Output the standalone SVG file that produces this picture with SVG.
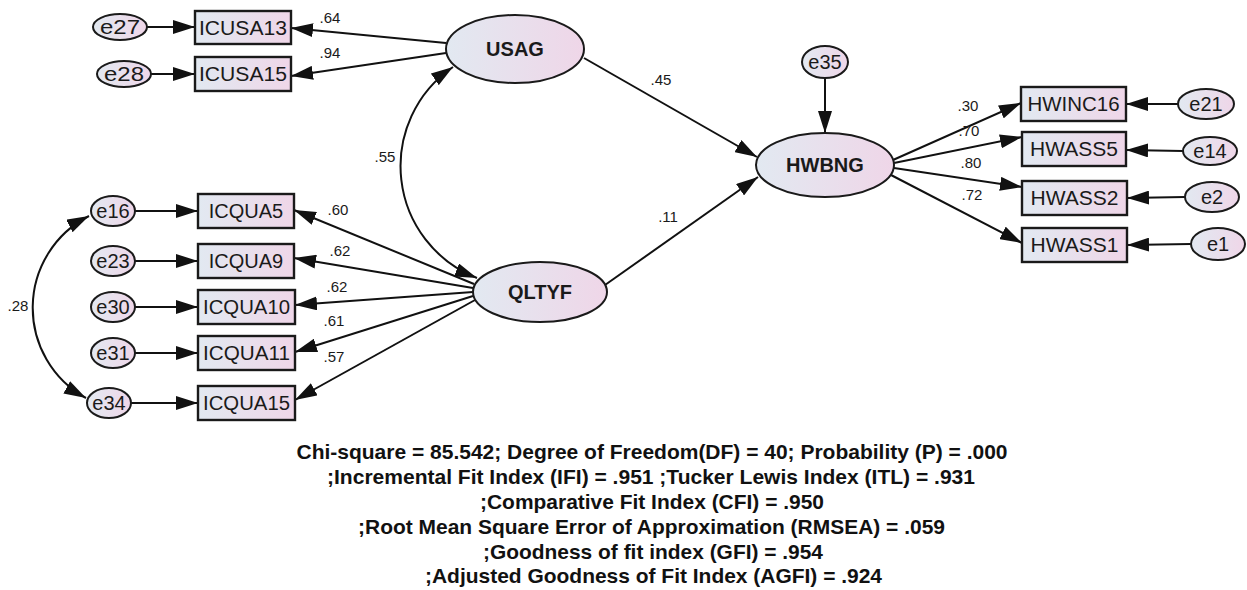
<svg xmlns="http://www.w3.org/2000/svg" width="1247" height="590" viewBox="0 0 1247 590">
<defs>
<linearGradient id="g" x1="0" y1="0" x2="1" y2="0">
<stop offset="0" stop-color="#e2e9f1"/>
<stop offset="1" stop-color="#efd6e8"/>
</linearGradient>
<marker id="ah" markerUnits="userSpaceOnUse" markerWidth="24" markerHeight="14" refX="22" refY="7" orient="auto-start-reverse" viewBox="0 0 24 14">
<path d="M0,0 L22,7 L0,14 z" fill="#111"/>
</marker>
<style>
.obs{fill:url(#g);stroke:#1a1a1a;stroke-width:2.4}
.lat{fill:url(#g);stroke:#1a1a1a;stroke-width:2}
.err{fill:url(#g);stroke:#1a1a1a;stroke-width:2}
.t{font-family:"Liberation Sans",Arial,sans-serif;font-size:20px;fill:#1a1a1a;text-anchor:middle}
.b{font-family:"Liberation Sans",Arial,sans-serif;font-size:20px;font-weight:bold;fill:#1a1a1a;text-anchor:middle}
.c{font-family:"Liberation Sans",Arial,sans-serif;font-size:15px;fill:#1a1a1a;text-anchor:middle}
.f{font-family:"Liberation Sans",Arial,sans-serif;font-size:21px;font-weight:bold;fill:#111;text-anchor:middle}
.ln{fill:none;stroke:#111;stroke-width:2;marker-end:url(#ah)}
.dl{fill:none;stroke:#111;stroke-width:2;marker-start:url(#ah);marker-end:url(#ah)}
</style>
</defs>
<rect width="1247" height="590" fill="#fff"/>

<g id="connectors">
<line class="ln" x1="147" y1="27" x2="195" y2="27"/>
<line class="ln" x1="151" y1="74" x2="195" y2="74"/>
<line class="ln" x1="446" y1="43" x2="291" y2="28"/>
<line class="ln" x1="446" y1="53" x2="291" y2="76"/>
<line class="ln" x1="584" y1="58" x2="757" y2="157"/>
<line class="ln" x1="605" y1="285" x2="758" y2="177"/>
<path class="dl" d="M453,67 A120,120 0 0 0 477,278"/>
<path class="dl" d="M89,216 A103,103 0 0 0 86,398"/>
<line class="ln" x1="135" y1="211" x2="198" y2="211"/>
<line class="ln" x1="135" y1="261" x2="198" y2="261"/>
<line class="ln" x1="135" y1="307" x2="198" y2="307"/>
<line class="ln" x1="135" y1="353" x2="198" y2="353"/>
<line class="ln" x1="131" y1="403" x2="198" y2="403"/>
<line class="ln" x1="474" y1="284" x2="294" y2="210"/>
<line class="ln" x1="473" y1="288" x2="294" y2="258"/>
<line class="ln" x1="473" y1="292" x2="295" y2="305"/>
<line class="ln" x1="473" y1="296" x2="295" y2="352"/>
<line class="ln" x1="475" y1="300" x2="295" y2="400"/>
<line class="ln" x1="825" y1="78" x2="825" y2="133"/>
<line class="ln" x1="893" y1="160" x2="1021" y2="103"/>
<line class="ln" x1="894" y1="163" x2="1022" y2="137"/>
<line class="ln" x1="894" y1="168" x2="1022" y2="187"/>
<line class="ln" x1="891" y1="175" x2="1022" y2="243"/>
<line class="ln" x1="1178" y1="104" x2="1126" y2="104"/>
<line class="ln" x1="1183" y1="151" x2="1126" y2="150"/>
<line class="ln" x1="1185" y1="197" x2="1127" y2="198"/>
<line class="ln" x1="1191" y1="244" x2="1127" y2="245"/>
</g>

<g id="labels">
<text class="c" x="330" y="23">.64</text>
<text class="c" x="330" y="58">.94</text>
<text class="c" x="385" y="162">.55</text>
<text class="c" x="661" y="85">.45</text>
<text class="c" x="668" y="222">.11</text>
<text class="c" x="338" y="215">.60</text>
<text class="c" x="340" y="256">.62</text>
<text class="c" x="337" y="292">.62</text>
<text class="c" x="334" y="326">.61</text>
<text class="c" x="334" y="362">.57</text>
<text class="c" x="18" y="311">.28</text>
<text class="c" x="968" y="111">.30</text>
<text class="c" x="969" y="136">.70</text>
<text class="c" x="971" y="168">.80</text>
<text class="c" x="972" y="200">.72</text>
</g>

<g id="e27"><ellipse class="err" cx="120" cy="27" rx="27" ry="13"/><text class="t" x="120" y="34" textLength="40" lengthAdjust="spacingAndGlyphs">e27</text></g>
<g id="e28"><ellipse class="err" cx="124" cy="74" rx="27" ry="13"/><text class="t" x="124" y="81" textLength="40" lengthAdjust="spacingAndGlyphs">e28</text></g>
<g id="ICUSA13"><rect class="obs" x="195" y="11" width="96" height="33"/><text class="t" x="243" y="34.5" textLength="88" lengthAdjust="spacingAndGlyphs">ICUSA13</text></g>
<g id="ICUSA15"><rect class="obs" x="195" y="57" width="96" height="34"/><text class="t" x="243" y="81" textLength="88" lengthAdjust="spacingAndGlyphs">ICUSA15</text></g>

<g id="USAG"><ellipse class="lat" cx="515" cy="49" rx="69" ry="34"/><text class="b" x="515" y="56">USAG</text></g>
<g id="QLTYF"><ellipse class="lat" cx="540" cy="292" rx="67" ry="30"/><text class="b" x="540" y="299">QLTYF</text></g>
<g id="HWBNG"><ellipse class="lat" cx="825" cy="165" rx="69" ry="32"/><text class="b" x="825" y="172">HWBNG</text></g>
<g id="e35"><ellipse class="err" cx="825" cy="62" rx="23" ry="16"/><text class="t" x="825" y="69">e35</text></g>

<g id="e16"><ellipse class="err" cx="113" cy="211" rx="22" ry="15"/><text class="t" x="113" y="218">e16</text></g>
<g id="e23"><ellipse class="err" cx="113" cy="261" rx="22" ry="15"/><text class="t" x="113" y="268">e23</text></g>
<g id="e30"><ellipse class="err" cx="113" cy="307" rx="22" ry="15"/><text class="t" x="113" y="314">e30</text></g>
<g id="e31"><ellipse class="err" cx="113" cy="353" rx="22" ry="15"/><text class="t" x="113" y="360">e31</text></g>
<g id="e34"><ellipse class="err" cx="109" cy="403" rx="22" ry="15"/><text class="t" x="109" y="410">e34</text></g>

<g id="ICQUA5"><rect class="obs" x="198" y="194" width="96" height="34"/><text class="t" x="246" y="218">ICQUA5</text></g>
<g id="ICQUA9"><rect class="obs" x="198" y="244" width="96" height="34"/><text class="t" x="246" y="268">ICQUA9</text></g>
<g id="ICQUA10"><rect class="obs" x="198" y="290" width="97" height="34"/><text class="t" x="246.5" y="314" textLength="87" lengthAdjust="spacingAndGlyphs">ICQUA10</text></g>
<g id="ICQUA11"><rect class="obs" x="198" y="336" width="97" height="34"/><text class="t" x="246.5" y="360" textLength="87" lengthAdjust="spacingAndGlyphs">ICQUA11</text></g>
<g id="ICQUA15"><rect class="obs" x="198" y="386" width="97" height="34"/><text class="t" x="246.5" y="410" textLength="87" lengthAdjust="spacingAndGlyphs">ICQUA15</text></g>

<g id="HWINC16"><rect class="obs" x="1021" y="87" width="105" height="34"/><text class="t" x="1073.5" y="111" textLength="92" lengthAdjust="spacingAndGlyphs">HWINC16</text></g>
<g id="HWASS5"><rect class="obs" x="1022" y="132" width="104" height="34"/><text class="t" x="1074" y="156" textLength="88" lengthAdjust="spacingAndGlyphs">HWASS5</text></g>
<g id="HWASS2"><rect class="obs" x="1022" y="181" width="105" height="34"/><text class="t" x="1074.5" y="205" textLength="88" lengthAdjust="spacingAndGlyphs">HWASS2</text></g>
<g id="HWASS1"><rect class="obs" x="1022" y="228" width="105" height="34"/><text class="t" x="1074.5" y="252" textLength="88" lengthAdjust="spacingAndGlyphs">HWASS1</text></g>

<g id="e21"><ellipse class="err" cx="1206" cy="104" rx="28" ry="15"/><text class="t" x="1206" y="111">e21</text></g>
<g id="e14"><ellipse class="err" cx="1210" cy="151" rx="27" ry="14"/><text class="t" x="1210" y="158">e14</text></g>
<g id="e2"><ellipse class="err" cx="1212" cy="197" rx="27" ry="15"/><text class="t" x="1212" y="204">e2</text></g>
<g id="e1"><ellipse class="err" cx="1218" cy="244" rx="27" ry="16"/><text class="t" x="1218" y="251">e1</text></g>

<g id="fit">
<text class="f" x="652" y="459" textLength="711" lengthAdjust="spacingAndGlyphs">Chi-square = 85.542; Degree of Freedom(DF) = 40; Probability (P) = .000</text>
<text class="f" x="651" y="484" textLength="648" lengthAdjust="spacingAndGlyphs">;Incremental Fit Index (IFI) = .951 ;Tucker Lewis Index (ITL) = .931</text>
<text class="f" x="652" y="509" textLength="344" lengthAdjust="spacingAndGlyphs">;Comparative Fit Index (CFI) = .950</text>
<text class="f" x="651.5" y="534" textLength="587" lengthAdjust="spacingAndGlyphs">;Root Mean Square Error of Approximation (RMSEA) = .059</text>
<text class="f" x="653" y="559" textLength="340" lengthAdjust="spacingAndGlyphs">;Goodness of fit index (GFI) = .954</text>
<text class="f" x="653.5" y="583" textLength="457" lengthAdjust="spacingAndGlyphs">;Adjusted Goodness of Fit Index (AGFI) = .924</text>
</g>
</svg>
